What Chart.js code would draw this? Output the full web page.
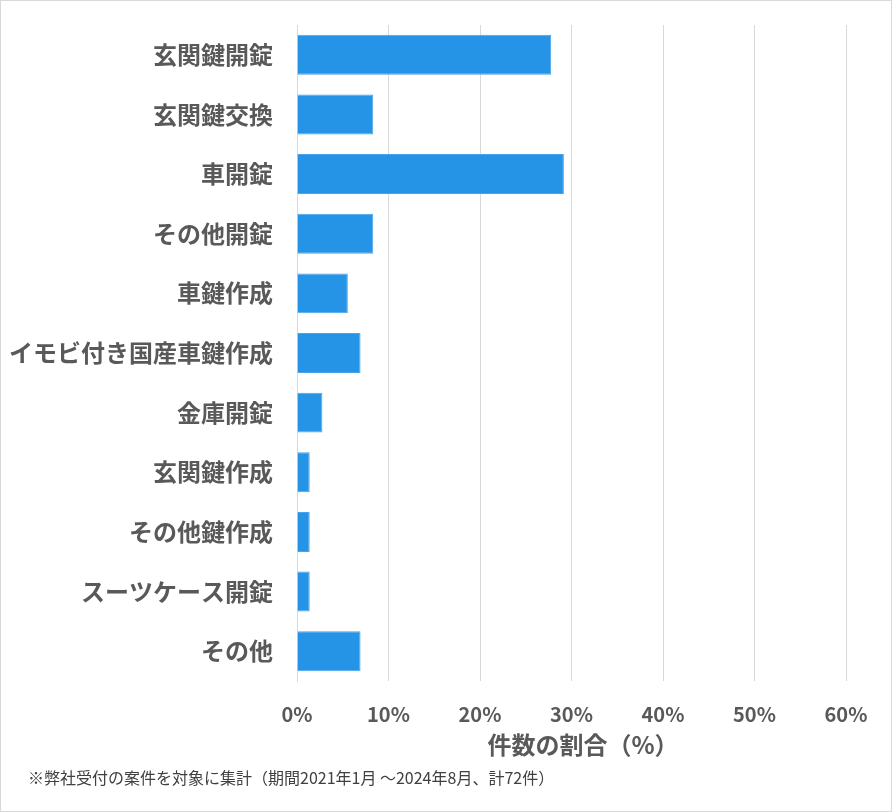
<!DOCTYPE html>
<html><head><meta charset="utf-8">
<script src="https://cdn.jsdelivr.net/npm/chart.js@4"></script>
<style>html,body{margin:0;padding:0;background:#fff}#wrap{width:892px;height:812px;position:relative}</style>
</head><body><div id="wrap"><canvas id="c" width="892" height="812"></canvas></div>
<script>
const categories = ["玄関鍵開錠","玄関鍵交換","車開錠","その他開錠","車鍵作成","イモビ付き国産車鍵作成","金庫開錠","玄関鍵作成","その他鍵作成","スーツケース開錠","その他"];
const counts = [20,6,21,6,4,5,2,1,1,1,5];
const totalCount = 72;
const percentValues = counts.map(v => v / totalCount * 100);
const xTickValues = [0,10,20,30,40,50,60];
const axisTitle = "件数の割合（%）";
const footnote = "※弊社受付の案件を対象に集計（期間2021年1月 ～2024年8月、計72件）";

const FONT = "'Noto Sans CJK JP', 'Noto Sans', sans-serif";
const frame = {
  id: 'frame',
  beforeDraw(chart) {
    const ctx = chart.ctx;
    ctx.save();
    ctx.fillStyle = '#fff';
    ctx.fillRect(0,0,chart.width,chart.height);
    ctx.strokeStyle = '#d9d9d9';
    ctx.lineWidth = 1;
    ctx.strokeRect(0.5,0.5,chart.width-1,chart.height-1);
    ctx.restore();
  },
  afterDraw(chart) {
    const ctx = chart.ctx;
    ctx.save();
    ctx.textBaseline = 'middle';
    ctx.fillStyle = '#595959';
    ctx.font = "bold 24px " + FONT;
    ctx.textAlign = 'center';
    ctx.fillText(axisTitle, 583, 745);
    ctx.fillStyle = '#404040';
    ctx.font = "16px " + FONT;
    ctx.textAlign = 'left';
    ctx.fillText(footnote, 28, 778);
    ctx.restore();
  }
};

new Chart(document.getElementById('c'), {
  type: 'bar',
  data: {
    labels: categories,
    datasets: [{
      data: percentValues,
      backgroundColor: '#2694E6',
      borderColor: '#4aa3ea',
      borderWidth: 1,
      barPercentage: 0.67,
      categoryPercentage: 1.0
    }]
  },
  options: {
    indexAxis: 'y',
    responsive: false,
    animation: false,
    devicePixelRatio: 1,
    layout: { padding: { left: 0, right: 46, top: 25, bottom: 0 } },
    plugins: { legend: { display: false }, tooltip: { enabled: false } },
    scales: {
      x: {
        min: 0, max: 60,
        afterBuildTicks(scale) { scale.ticks = xTickValues.map(v => ({value: v})); },
        afterFit(scale) { scale.height = 812 - 681; scale.paddingLeft = 0; scale.paddingRight = 0; },
        grid: { color: '#d9d9d9', drawTicks: false, lineWidth: 1 },
        border: { display: false },
        ticks: { padding: 21, color: '#595959', font: { family: FONT, size: 20, weight: 'bold' }, callback: v => v + '%' }
      },
      y: {
        afterFit(scale) { scale.width = 297; scale.paddingTop = 0; scale.paddingBottom = 0; },
        grid: { display: false, drawTicks: false },
        border: { display: true, color: '#d9d9d9' },
        ticks: { padding: 24, color: '#595959', font: { family: FONT, size: 24, weight: 'bold' } }
      }
    }
  },
  plugins: [frame]
});
</script></body></html>
